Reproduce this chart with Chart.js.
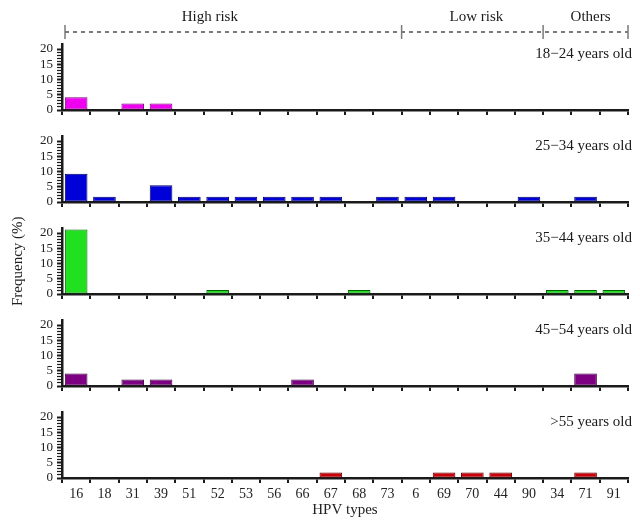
<!DOCTYPE html>
<html lang="en">
<head>
<meta charset="UTF-8" />
<title>HPV types by age group</title>
<script src="https://cdn.jsdelivr.net/npm/chart.js@4"></script>
<style>
  body { margin: 0; background: #fff; }
  #wrap { position: relative; width: 640px; height: 521px; overflow: hidden; }
  #wrap canvas { position: absolute; left: 0; }
</style>
</head>
<body>
<div id="wrap"></div>
<script>
  // HPV types along the x axis (same order in every panel)
  const hpvTypes = ["16", "18", "31", "39", "51", "52", "53", "56", "66", "67",
                    "68", "73", "6", "69", "70", "44", "90", "34", "71", "91"];

  // risk groups shown over the top panel (index ranges into hpvTypes)
  const riskGroups = ["High risk", "Low risk", "Others"];
  const riskStart = [0, 12, 17];
  const riskEnd = [12, 17, 20];

  const ageGroups = ["18\u221224 years old", "25\u221234 years old", "35\u221244 years old",
                     "45\u221254 years old", ">55 years old"];

  // frequency (%) per HPV type
  const freq18to24 = [4.2, 0, 2.1, 2.1, 0, 0, 0, 0, 0, 0, 0, 0, 0, 0, 0, 0, 0, 0, 0, 0];
  const freq25to34 = [9.3, 1.7, 0, 5.5, 1.7, 1.7, 1.7, 1.7, 1.7, 1.7, 0, 1.7, 1.7, 1.7, 0, 0, 1.7, 0, 1.7, 0];
  const freq35to44 = [21.2, 0, 0, 0, 0, 1.3, 0, 0, 0, 0, 1.3, 0, 0, 0, 0, 0, 0, 1.3, 1.3, 1.3];
  const freq45to54 = [4.1, 0, 2.1, 2.1, 0, 0, 0, 0, 2.1, 0, 0, 0, 0, 0, 0, 0, 0, 0, 4.1, 0];
  const freq55plus = [0, 0, 0, 0, 0, 0, 0, 0, 0, 1.8, 0, 0, 0, 1.8, 1.8, 1.8, 0, 0, 1.8, 0];

  const yLabels = [0, 5, 10, 15, 20];

  const serif = "'Liberation Serif', 'DejaVu Serif', serif";
  const ink = "#1a1a1a";

  const panels = [
    { title: ageGroups[0], data: freq18to24, fill: "#f000f0", edge: "#780078" },
    { title: ageGroups[1], data: freq25to34, fill: "#0000d8", edge: "#000060" },
    { title: ageGroups[2], data: freq35to44, fill: "#20e020", edge: "#005f00" },
    { title: ageGroups[3], data: freq45to54, fill: "#7d0082", edge: "#3a003c" },
    { title: ageGroups[4], data: freq55plus, fill: "#c8000a", edge: "#600000" },
  ];

  // age group text in the upper right of each panel
  const panelTitle = {
    id: "panelTitle",
    afterDraw(chart, args, opts) {
      const { ctx, chartArea } = chart;
      ctx.save();
      ctx.font = "15px " + serif;
      ctx.fillStyle = ink;
      ctx.textAlign = "right";
      ctx.textBaseline = "middle";
      ctx.fillText(opts.text, chartArea.right + 4, chartArea.top + 10);
      ctx.restore();
    },
  };

  // dashed bracket with the risk group names above the first panel
  const riskBracket = {
    id: "riskBracket",
    afterDraw(chart, args, opts) {
      const { ctx } = chart;
      const x = chart.scales.x;
      const cw = x.width / hpvTypes.length;
      const edge = (i) => x.getPixelForValue(0) - cw / 2 + i * cw;
      const y = 32;
      ctx.save();
      ctx.strokeStyle = "#7a7a7a";
      ctx.lineWidth = 2;
      ctx.setLineDash([4, 4]);
      ctx.beginPath();
      ctx.moveTo(edge(0) + 3, y);
      ctx.lineTo(edge(hpvTypes.length), y);
      ctx.stroke();
      ctx.setLineDash([]);
      ctx.lineWidth = 1.5;
      const caps = [...riskStart, riskEnd[riskEnd.length - 1]];
      caps.forEach((i, n) => {
        const cx = edge(i) + (n === 0 ? 3 : 0);
        ctx.beginPath();
        ctx.moveTo(cx, y - 7);
        ctx.lineTo(cx, y + 7);
        ctx.stroke();
      });
      ctx.font = "15px " + serif;
      ctx.fillStyle = ink;
      ctx.textAlign = "center";
      ctx.textBaseline = "middle";
      riskGroups.forEach((name, g) => {
        const mid = (edge(riskStart[g]) + edge(riskEnd[g])) / 2 + opts.shift[g];
        ctx.fillText(name, mid, 17);
      });
      ctx.restore();
    },
  };

  const wrap = document.getElementById("wrap");
  const step = 92;

  panels.forEach((p, k) => {
    const last = k === panels.length - 1;
    const h = last ? 521 - step * k : 125;
    const canvas = document.createElement("canvas");
    canvas.width = 640;
    canvas.height = h;
    canvas.style.width = "640px";
    canvas.style.height = h + "px";
    canvas.style.top = step * k + "px";
    wrap.appendChild(canvas);

    new Chart(canvas, {
      type: "bar",
      data: {
        labels: hpvTypes,
        datasets: [
          {
            data: p.data,
            backgroundColor: p.fill,
            borderColor: p.edge,
            borderWidth: 1,
            borderSkipped: false,
            barPercentage: 0.8,
            categoryPercentage: 1,
          },
        ],
      },
      options: {
        responsive: false,
        animation: false,
        devicePixelRatio: 1,
        layout: { padding: { top: 44.5, right: 12, left: 0, bottom: 0 } },
        plugins: {
          legend: { display: false },
          tooltip: { enabled: false },
          panelTitle: { text: p.title },
          riskBracket: k === 0 ? { shift: [-22, 4, 5] } : false,
        },
        scales: {
          x: {
            afterFit: (s) => { s.height = h - 110; },
            border: { color: ink, width: 2.5 },
            grid: {
              offset: true,
              drawOnChartArea: false,
              drawTicks: true,
              tickLength: 5,
              color: ink,
              lineWidth: 2,
            },
            ticks: {
              display: last,
              autoSkip: false,
              maxRotation: 0,
              padding: 3,
              color: "#222",
              font: { family: serif, size: 14 },
            },
            title: {
              display: last,
              text: "HPV types",
              color: "#222",
              font: { family: serif, size: 15 },
              padding: { top: 0, bottom: 2 },
            },
          },
          y: {
            min: 0,
            max: 21.5,
            afterFit: (s) => { s.width = 62; },
            afterBuildTicks: (s) => {
              const t = [];
              for (let v = 0; v <= yLabels[yLabels.length - 1]; v++) t.push({ value: v });
              s.ticks = t;
            },
            border: { color: ink, width: 2.5 },
            grid: {
              drawOnChartArea: false,
              drawTicks: true,
              tickLength: 5,
              tickColor: ink,
              tickWidth: (c) => (yLabels.includes(c.tick.value) ? 2 : 1.2),
            },
            ticks: {
              autoSkip: false,
              padding: 4,
              color: "#222",
              font: { family: serif, size: 13 },
              callback: (v) => (yLabels.includes(v) ? v : ""),
            },
            title: {
              display: k === 2,
              text: "Frequency (%)",
              color: "#222",
              font: { family: serif, size: 15 },
              padding: { top: 9, bottom: 0 },
            },
          },
        },
      },
      plugins: [panelTitle, riskBracket],
    });
  });
</script>
</body>
</html>
